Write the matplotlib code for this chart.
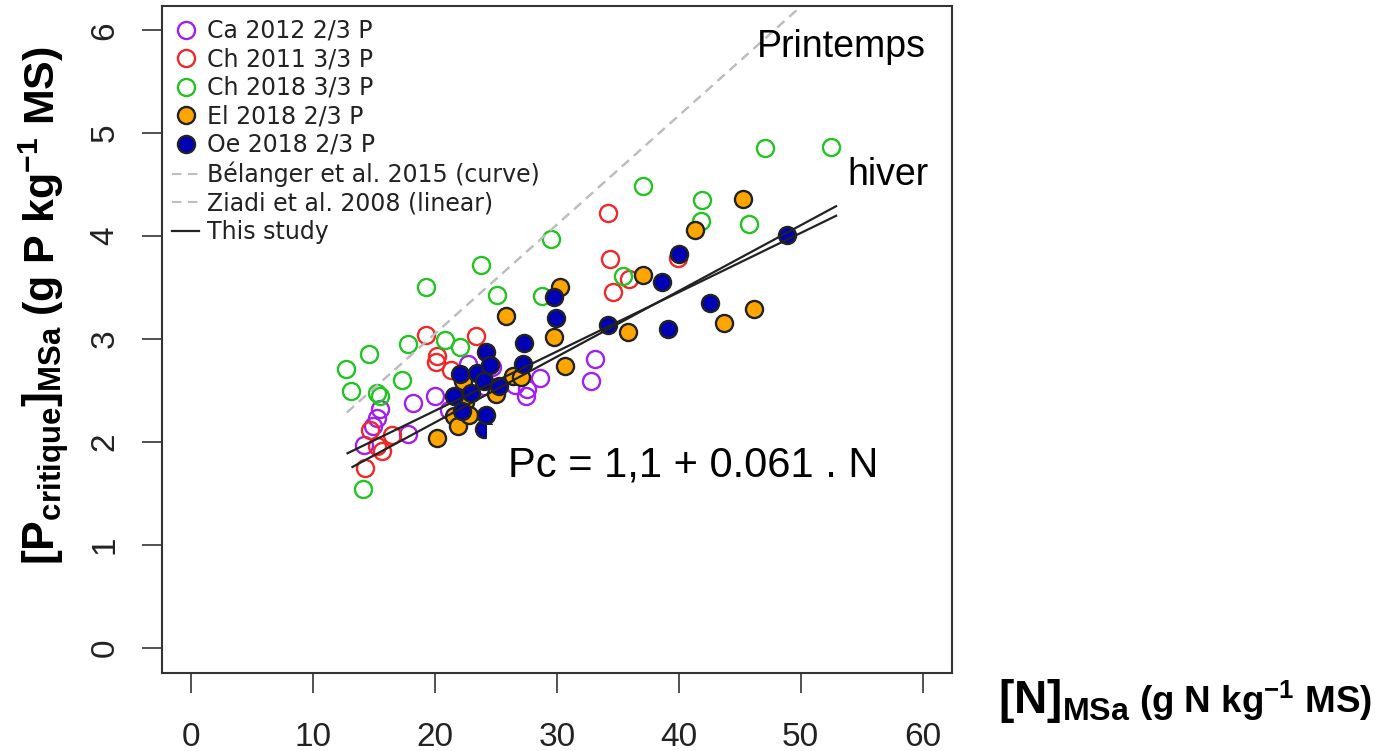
import numpy as np
import matplotlib
matplotlib.use("Agg")
import matplotlib.pyplot as plt
from matplotlib.lines import Line2D

plt.rcParams['mathtext.fontset'] = 'custom'
plt.rcParams['mathtext.rm'] = 'Liberation Sans:bold'
plt.rcParams['mathtext.bf'] = 'Liberation Sans:bold'
plt.rcParams['mathtext.it'] = 'Liberation Sans:bold'

# --- donnees (N en g/kg, P en g/kg) ---
ca12_n = [14.2, 14.9, 15.3, 15.5, 17.8, 18.2, 20.0, 21.2, 22.7, 24.7, 24.0, 26.6, 27.5, 27.6, 28.6, 32.8, 33.1]
ca12_p = [1.97, 2.15, 2.23, 2.32, 2.08, 2.38, 2.45, 2.31, 2.76, 2.73, 2.54, 2.55, 2.45, 2.51, 2.62, 2.59, 2.81]

ch11_n = [14.3, 14.7, 15.3, 15.7, 16.5, 19.3, 20.1, 20.2, 21.3, 23.4, 34.2, 34.4, 34.6, 35.9, 39.9]
ch11_p = [1.75, 2.12, 1.96, 1.91, 2.07, 3.04, 2.78, 2.83, 2.70, 3.03, 4.22, 3.78, 3.46, 3.58, 3.79]

ch18_n = [12.7, 13.1, 14.1, 14.6, 15.3, 15.5, 17.3, 17.8, 19.3, 20.8, 22.1, 23.8, 25.1, 28.8, 29.5,
          35.4, 37.1, 41.8, 41.9, 45.8, 47.1, 52.5]
ch18_p = [2.71, 2.49, 1.54, 2.85, 2.48, 2.45, 2.60, 2.95, 3.51, 2.99, 2.92, 3.72, 3.43, 3.42, 3.97,
          3.61, 4.49, 4.15, 4.35, 4.12, 4.86, 4.87]

el18_n = [20.2, 21.6, 21.9, 22.3, 22.5, 22.8, 25.0, 25.8, 26.4, 27.1, 29.8, 30.3, 30.7, 35.8, 37.1,
          41.3, 43.7, 45.3, 46.2]
el18_p = [2.04, 2.25, 2.15, 2.59, 2.39, 2.26, 2.47, 3.22, 2.64, 2.63, 3.02, 3.51, 2.74, 3.07, 3.62,
          4.06, 3.16, 4.36, 3.29]

oe18_n = [21.6, 22.1, 22.2, 23.0, 23.5, 24.0, 24.0, 24.2, 24.2, 24.5, 25.3, 27.2, 27.3, 29.8, 29.9,
          34.2, 38.6, 39.1, 40.0, 42.6, 48.9]
oe18_p = [2.45, 2.66, 2.30, 2.48, 2.67, 2.59, 2.13, 2.26, 2.87, 2.75, 2.54, 2.76, 2.96, 3.41, 3.20,
          3.14, 3.55, 3.10, 3.83, 3.35, 4.01]

# droites de reference (ordonnee, pente) et plage de N
belanger = (0.93, 0.106)
ziadi = (0.93, 0.106)
ref_range = [12.8, 56.0]
hiver = (1.15, 0.0576)
hiver_range = [12.85, 52.9]
printemps = (0.91, 0.0639)
printemps_range = [13.25, 52.9]

W, H = 1378, 751
fig = plt.figure(figsize=(W / 100, H / 100), dpi=100)
ax = fig.add_axes([161.5 / W, 1 - 672.5 / H, 790.5 / W, 667 / H])

ms = 12.3
mew = 1.7
series = [
    (ca12_n, ca12_p, 'none', '#A020F0', 'Ca 2012 2/3 P'),
    (ch11_n, ch11_p, 'none', '#F02828', 'Ch 2011 3/3 P'),
    (ch18_n, ch18_p, 'none', '#22C322', 'Ch 2018 3/3 P'),
    (el18_n, el18_p, '#FFA500', '#222222', 'El 2018 2/3 P'),
    (oe18_n, oe18_p, '#0000B4', '#222222', 'Oe 2018 2/3 P'),
]
handles = []
for n, p, fc, ec, lab in series:
    ax.plot(n, p, 'o', ls='none', ms=ms, mfc=fc, mec=ec, mew=mew)
    handles.append(Line2D([], [], marker='o', ls='none', ms=ms, mfc=fc, mec=ec, mew=mew))

dash = (0, (4.5, 3.2))
for a, b in [belanger, ziadi]:
    nn = np.array(ref_range)
    ax.plot(nn, a + b * nn, color='#BDBDBD', ls=dash, lw=1.5)
for (a, b), rng in [(hiver, hiver_range), (printemps, printemps_range)]:
    nn = np.array(rng)
    ax.plot(nn, a + b * nn, color='#222222', lw=1.6)

handles += [Line2D([], [], color='#BDBDBD', ls=dash, lw=1.5),
            Line2D([], [], color='#BDBDBD', ls=dash, lw=1.5),
            Line2D([], [], color='#222222', lw=1.6)]
labels = [s[4] for s in series] + ['Bélanger et al. 2015 (curve)', 'Ziadi et al. 2008 (linear)', 'This study']
leg = ax.legend(handles, labels, loc='upper left', bbox_to_anchor=(172 / W, 1 - 19 / H),
                bbox_transform=fig.transFigure, frameon=False,
                prop={'family': 'DejaVu Sans', 'size': 17}, handlelength=1.15,
                handletextpad=0.32, labelspacing=0.19, borderpad=0, borderaxespad=0)
for t in leg.get_texts():
    t.set_color('#222222')

ax.set_xlim(-2.4, 62.4)
ax.set_ylim(-0.24, 6.24)
ax.set_xticks(range(0, 61, 10))
ax.set_yticks(range(0, 7))
for s in ax.spines.values():
    s.set_color('#333333')
    s.set_linewidth(1.5)
ax.tick_params(direction='out', length=14.5, width=1.2, color='#333333', labelsize=24)
ax.tick_params(axis='x', pad=21)
ax.tick_params(axis='y', pad=15)
for lab in ax.get_xticklabels() + ax.get_yticklabels():
    lab.set_family('Liberation Sans')
    lab.set_color('#222222')
for lab in ax.get_yticklabels():
    lab.set_rotation(90)
    lab.set_va('center')

ax.text(46.4, 5.74, 'Printemps', fontsize=27, family='Liberation Sans', va='baseline')
ax.text(53.8, 4.50, 'hiver', fontsize=27, family='Liberation Sans', va='baseline')
ax.text(26.0, 1.66, 'Pc = 1,1 + 0.061 . N', fontsize=30, family='Liberation Sans', va='baseline',
        zorder=10, bbox=dict(boxstyle='square,pad=0.5', fc='white', ec='none'))

# titres des axes en deux morceaux
r = fig.canvas.get_renderer()
tx1 = fig.text(998 / W, 1 - 713 / H, r'$\mathbf{[N]_{MSa}}$', fontsize=33, ha='left', va='baseline')
bb = tx1.get_window_extent(renderer=r)
fig.text((bb.x1 + 9) / W, 1 - 713 / H, r'(g N kg$^{-1}$ MS)', fontsize=26.5, fontweight='bold',
         family='Liberation Sans', ha='left', va='baseline')

ty1 = fig.text(55 / W, 1 - 565 / H, r'$\mathbf{[P_{critique}]_{MSa}}$', fontsize=32, rotation=90,
               rotation_mode='anchor', ha='left', va='baseline')
bb = ty1.get_window_extent(renderer=r)
fig.text(55 / W, (bb.y1 + 9) / H, r'(g P kg$^{-1}$ MS)', fontsize=31, fontweight='bold',
         family='Liberation Sans', rotation=90, rotation_mode='anchor', ha='left', va='baseline')

fig.savefig('out.png', dpi=100)
